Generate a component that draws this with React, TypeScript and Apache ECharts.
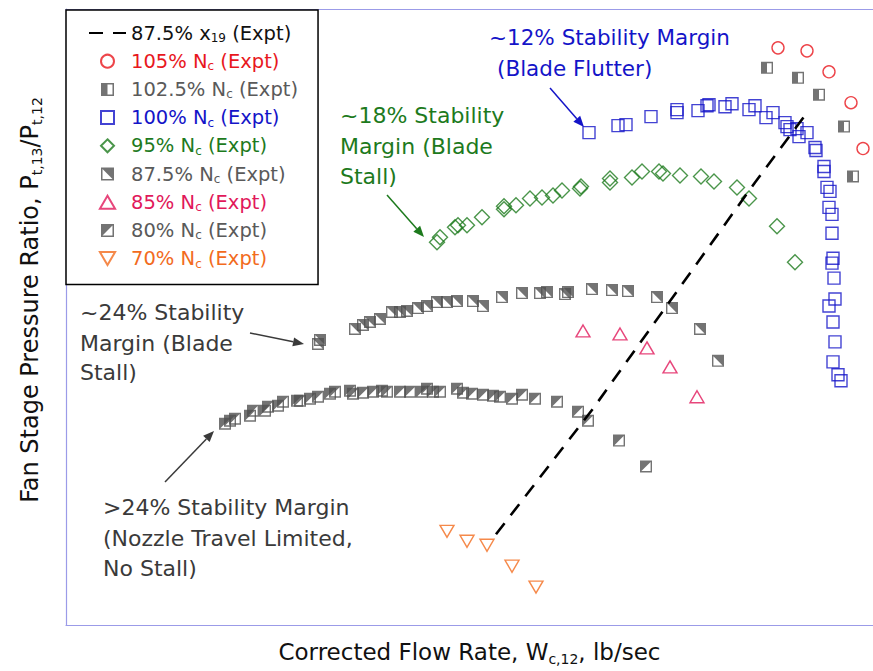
import React, { useEffect, useRef } from 'react';
import * as echarts from 'echarts';

const FONT = 'DejaVu Sans';

// Values in chart units (x: corrected flow, y: pressure ratio; axes carry no ticks)
const x19Line = [[430, 91], [527, 217], [624, 353], [689, 444], [741, 514]];
const nc105 = [[712, 579], [741, 576], [763, 555], [785, 524], [797, 478]];
const nc1025 = [[701, 559], [732, 549], [753, 532], [778, 500], [787, 450]];
const nc100 = [
  [523, 494], [552, 501], [560, 502], [585, 510], [611, 517], [611, 514], [632, 516], [641, 521], [643, 522],
  [659, 520], [666, 523], [683, 517], [689, 521], [700, 509], [707, 514], [719, 504], [721, 500], [724, 497],
  [731, 498], [733, 490], [741, 494], [749, 479], [750, 476], [758, 460], [758, 455], [761, 439], [764, 435],
  [763, 419], [766, 412], [766, 393], [767, 368], [766, 363], [768, 348], [769, 327], [763, 320], [767, 304],
  [769, 284], [767, 264], [772, 251], [775, 245],
];
const nc95 = [
  [371, 384], [374, 389], [389, 399], [392, 401], [401, 401], [416, 409], [438, 417], [438, 420], [450, 421],
  [464, 428], [476, 429], [487, 431], [496, 436], [514, 438], [515, 440], [544, 448], [544, 444], [566, 449],
  [576, 455], [593, 455], [597, 453], [614, 451], [635, 450], [648, 445], [671, 439], [683, 428], [711, 400],
  [729, 364],
];
const nc875 = [
  [252, 282], [254, 286], [289, 297], [297, 301], [304, 304], [314, 307], [326, 314], [334, 314], [341, 315],
  [352, 318], [361, 320], [371, 324], [381, 324], [391, 325], [407, 325], [417, 320], [436, 329], [456, 333],
  [474, 333], [481, 334], [499, 332], [502, 334], [526, 337], [546, 336], [562, 335], [591, 329], [606, 318],
  [634, 297], [652, 265],
];
const nc85 = [[517, 295], [554, 292], [581, 278], [604, 259], [631, 229]];
const nc80 = [
  [159, 202], [164, 205], [169, 207], [184, 210], [187, 215], [199, 215], [202, 219], [212, 220], [217, 224],
  [231, 225], [234, 225], [244, 227], [252, 229], [264, 232], [269, 234], [284, 235], [287, 232], [297, 233],
  [307, 234], [316, 235], [321, 234], [334, 234], [344, 234], [356, 234], [361, 237], [367, 234], [374, 234],
  [391, 237], [397, 233], [406, 232], [417, 231], [427, 230], [434, 229], [446, 227], [456, 231], [469, 227],
  [491, 224], [512, 214], [522, 205], [553, 185], [580, 159],
];
const nc70 = [[381, 94], [401, 84], [421, 80], [446, 59], [470, 38]];

const names = [
  '87.5% x19 (Expt)', '105% Nc (Expt)', '102.5% Nc (Expt)', '100% Nc (Expt)', '95% Nc (Expt)',
  '87.5% Nc (Expt)', '85% Nc (Expt)', '80% Nc (Expt)', '70% Nc (Expt)',
];

const C = {
  black: '#111111', red: '#e8171d', grayText: '#5a5a5a', gray: '#505050', blue: '#1414c8',
  green: '#1d7a1d', crimson: '#e1185a', orange: '#f26b1d', axis: '#9b9be8', note: '#3a3a3a',
};

const textColors = [C.black, C.red, C.grayText, C.blue, C.green, C.grayText, C.crimson, C.grayText, C.orange];

const FRAME = 'M0 0 H12 V12 H0 Z M1.4 1.4 V10.6 H10.6 V1.4 Z';
const SYM_1025 = 'path://' + FRAME + ' M1.4 1.4 H6 V10.6 H1.4 Z';
const SYM_875 = 'path://' + FRAME + ' M1.4 1.4 H10.6 V10.6 Z';
const SYM_80 = 'path://' + FRAME + ' M1.4 1.4 H10.6 L1.4 10.6 Z';
const SYM_DOWN = 'path://M0 0 L14 0 L7 12 Z';
const SYM_UP = 'path://M7 0 L14 12 L0 12 Z';
const SYM_RECT = 'path://M0 0 H12 V12 H0 Z';
const SYM_DIAM = 'path://M6 0 L12 6 L6 12 L0 6 Z';
const SYM_CIRC = 'circle';

const legendIcons = [undefined, SYM_CIRC, SYM_1025, SYM_RECT, SYM_DIAM, SYM_875, SYM_UP, SYM_80, SYM_DOWN];

function hollow(name: string, data: number[][], symbol: string, size: any, color: string) {
  return {
    name, type: 'scatter', data, symbol, symbolSize: size,
    itemStyle: { color: 'rgba(255,255,255,0)', borderColor: color, borderWidth: 1.4 },
    z: 2,
  };
}
function filled(name: string, data: number[][], symbol: string, color: string) {
  return {
    name, type: 'scatter', data, symbol, symbolSize: 12,
    itemStyle: { color, borderWidth: 0 },
    z: 2,
  };
}

function T(x: number, y: number, text: string, color: string, size = 22) {
  return {
    type: 'text', x, y, z: 10,
    style: { text, fill: color, fontSize: size, fontFamily: FONT, align: 'left', verticalAlign: 'middle' },
  };
}
function arrow(x1: number, y1: number, x2: number, y2: number, color: string) {
  const a = Math.atan2(y2 - y1, x2 - x1);
  const L = 11, W = 4.5;
  const bx = x2 - L * Math.cos(a), by = y2 - L * Math.sin(a);
  return [
    { type: 'line', z: 10, shape: { x1, y1, x2: bx, y2: by }, style: { stroke: color, lineWidth: 1.5 } },
    {
      type: 'polygon', z: 10,
      shape: { points: [[x2, y2], [bx + W * Math.sin(a), by - W * Math.cos(a)], [bx - W * Math.sin(a), by + W * Math.cos(a)]] },
      style: { fill: color },
    },
  ];
}

const fmt = (n: string) => n.replace('Nc', 'N{sub|c}').replace('x19', 'x{sub|19}');

export default function App() {
  const ref = useRef<HTMLDivElement>(null);
  useEffect(() => {
    const chart = echarts.init(ref.current!, null, { renderer: 'svg' });
    const sub = { fontSize: 12, lineHeight: 12, verticalAlign: 'bottom', fontFamily: FONT };
    const axisCommon = {
      type: 'value', min: 0,
      axisTick: { show: false }, axisLabel: { show: false }, splitLine: { show: false },
    };
    const option: any = {
      animation: false,
      backgroundColor: '#ffffff',
      grid: { left: 66, right: 0, top: 9, bottom: 44 },
      xAxis: [
        {
          ...axisCommon, max: 807, position: 'bottom',
          axisLine: { show: true, onZero: false, lineStyle: { color: C.axis, width: 1.2 } },
          name: 'Corrected Flow Rate, W{sub|c,12}, lb/sec', nameLocation: 'middle', nameGap: 13,
          nameTextStyle: {
            fontFamily: FONT, fontSize: 23, color: C.black, lineHeight: 28,
            rich: { sub: { ...sub, fontSize: 14, lineHeight: 14 } },
          },
        },
        {
          ...axisCommon, max: 807, position: 'top',
          axisLine: { show: true, onZero: false, lineStyle: { color: C.axis, width: 1.2 } },
        },
      ],
      yAxis: {
        ...axisCommon, max: 618, position: 'left',
        axisLine: { show: true, onZero: false, lineStyle: { color: C.axis, width: 1.2 } },
        name: 'Fan Stage Pressure Ratio, P{sub|t,13}/P{sub|t,12}', nameLocation: 'middle', nameGap: 22,
        nameTextStyle: {
          fontFamily: FONT, fontSize: 24, color: C.black, lineHeight: 29, padding: [0, 0, 0, 34],
          rich: { sub: { ...sub, fontSize: 14, lineHeight: 14 } },
        },
      },
      legend: {
        orient: 'vertical', left: 66, top: 10,
        padding: [12, 20, 15, 22],
        itemWidth: 37, itemHeight: 13, itemGap: 6.2,
        borderColor: '#000', borderWidth: 1.5, backgroundColor: '#fff',
        textStyle: { fontFamily: FONT, fontSize: 19.5, lineHeight: 22, rich: { sub } },
        formatter: fmt,
        data: names.map((n, i) => {
          const d: any = { name: n, textStyle: { color: textColors[i] } };
          if (legendIcons[i]) d.icon = legendIcons[i];
          if (i === 0) d.itemStyle = { color: 'rgba(0,0,0,0)', opacity: 0, borderWidth: 0 };
          return d;
        }),
        z: 5,
      },
      series: [
        {
          name: names[0], type: 'line', data: x19Line, symbol: 'none', z: 3,
          lineStyle: { color: '#000', width: 2.6, type: [14, 10] }, itemStyle: { color: '#000' },
        },
        hollow(names[1], nc105, 'circle', 12, C.red),
        filled(names[2], nc1025, SYM_1025, C.gray),
        hollow(names[3], nc100, 'rect', 12, C.blue),
        hollow(names[4], nc95, 'diamond', 15, C.green),
        filled(names[5], nc875, SYM_875, C.gray),
        hollow(names[6], nc85, 'triangle', [14, 12], C.crimson),
        filled(names[7], nc80, SYM_80, C.gray),
        hollow(names[8], nc70, SYM_DOWN, [14, 12], C.orange),
      ],
      graphic: [
        T(489, 37, '~12% Stability Margin', C.blue, 21.5),
        T(497, 68, '(Blade Flutter)', C.blue, 21.5),
        ...arrow(550, 88, 584, 127, C.blue),
        T(340, 115, '~18% Stability', C.green),
        T(340, 146, 'Margin (Blade', C.green),
        T(340, 176, 'Stall)', C.green),
        ...arrow(387, 195, 424, 237, C.green),
        T(80, 312, '~24% Stability', C.note),
        T(80, 343, 'Margin (Blade', C.note),
        T(80, 372, 'Stall)', C.note),
        ...arrow(250, 333, 304, 344, C.note),
        T(103, 507, '>24% Stability Margin', C.note),
        T(103, 538, '(Nozzle Travel Limited,', C.note),
        T(103, 568, 'No Stall)', C.note),
        ...arrow(165, 482, 214, 431, C.note),
      ],
    };
    chart.setOption(option);
    return () => chart.dispose();
  }, []);
  return (
    <div
      ref={ref}
      style={{ position: 'absolute', left: 0, top: 0, width: 873, height: 671, background: '#fff' }}
    />
  );
}
